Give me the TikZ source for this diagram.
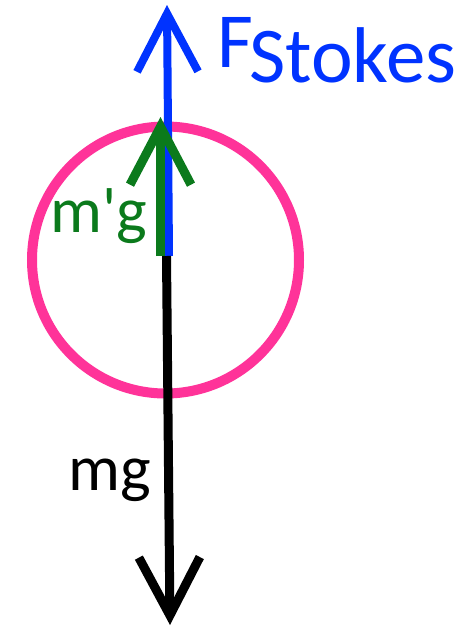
\documentclass[tikz,border=0pt]{standalone}
\usepackage{fontspec}
\setmainfont{Carlito}
\usetikzlibrary{arrows.meta}
\definecolor{beadPink}{HTML}{FF3399}
\definecolor{stokesBlue}{HTML}{0033FF}
\definecolor{buoyGreen}{HTML}{0B7A1C}

\tikzset{
  force/.style={line width=9pt, -{Straight Barb[length=58pt, width=61pt]}},
  lbl/.style={anchor=base west, inner sep=0pt}
}

\begin{document}
\begin{tikzpicture}[x=1pt, y=-1pt]
  \useasboundingbox (0,0) rectangle (471,627);
  % the bead
  \node[draw=beadPink, line width=10pt, circle, minimum size=267pt, inner sep=0pt] (bead) at (165.5,260) {};
  % points where the forces start and end
  \coordinate (blueFoot) at (169,256);
  \coordinate (blueTip) at (167,5);
  \coordinate (greenFoot) at (160.5,256);
  \coordinate (greenTip) at (160.5,117);
  \coordinate (blackFoot) at (166.5,256);
  \coordinate (blackTip) at (170,625);
  % forces
  \draw[force, stokesBlue, line width=8pt] (blueFoot) -- (blueTip);
  \draw[force, buoyGreen] (greenFoot) -- (greenTip);
  \draw[force, black] (blackFoot) -- (blackTip);
  % labels
  \node[lbl, stokesBlue, font=\fontsize{78}{80}\selectfont] (fLbl) at (217,67) {F};
  \node[lbl, stokesBlue, font=\fontsize{79}{80}\selectfont] (stokesLbl) at (249,82) {Stokes};
  \node[lbl, buoyGreen, font=\fontsize{65}{70}\selectfont] (mpgLbl) at (50,232) {m\textquotesingle g};
  \node[lbl, black, font=\fontsize{65}{70}\selectfont] (mgLbl) at (68,490) {mg};
\end{tikzpicture}
\end{document}
